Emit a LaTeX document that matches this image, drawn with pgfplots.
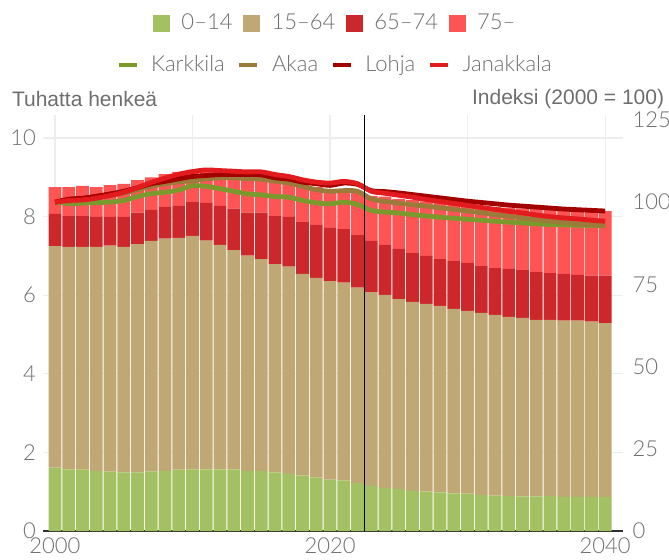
\documentclass[border=0pt]{standalone}
\usepackage{fontspec}
\setmainfont{Lato}
\newfontfamily\lightfont{Lato Light}
\newfontfamily\titlefont{Liberation Sans}
\usepackage{pgfplots}
\usepackage{pgfplotstable}
\pgfplotsset{compat=1.18}

\definecolor{kids}{HTML}{A3C163}
\definecolor{work}{HTML}{C0A874}
\definecolor{young}{HTML}{CC272A}
\definecolor{old}{HTML}{FF5454}
\definecolor{karkkila}{HTML}{7A9A2D}
\definecolor{akaa}{HTML}{9A7B3A}
\definecolor{lohja}{HTML}{A30000}
\definecolor{janakkala}{HTML}{E21B1F}
\definecolor{labelgrey}{HTML}{6E6E6E}
\definecolor{gridgrey}{HTML}{EDEDED}
\definecolor{axisdark}{HTML}{2E2E2E}

% age groups, thousands (segment heights)
\pgfplotstableread{
year c    w    s    o
2000 1.61 5.64 0.82 0.68
2001 1.57 5.66 0.78 0.74
2002 1.56 5.67 0.78 0.77
2003 1.53 5.70 0.76 0.76
2004 1.51 5.75 0.73 0.81
2005 1.49 5.74 0.76 0.84
2006 1.49 5.81 0.80 0.83
2007 1.52 5.86 0.79 0.83
2008 1.53 5.91 0.81 0.83
2009 1.56 5.90 0.81 0.87
2010 1.57 5.94 0.86 0.82
2011 1.57 5.82 0.96 0.84
2012 1.57 5.71 0.99 0.90
2013 1.57 5.58 1.05 0.95
2014 1.53 5.48 1.09 0.95
2015 1.53 5.39 1.18 0.94
2016 1.49 5.30 1.22 0.97
2017 1.45 5.28 1.26 0.94
2018 1.41 5.13 1.32 0.95
2019 1.36 5.08 1.35 0.96
2020 1.31 5.05 1.35 0.99
2021 1.28 5.04 1.36 1.01
2022 1.22 4.97 1.34 1.08
2023 1.15 4.93 1.30 1.15
2024 1.10 4.91 1.27 1.23
2025 1.07 4.83 1.28 1.27
2026 1.02 4.81 1.24 1.35
2027 1.00 4.78 1.22 1.39
2028 0.98 4.75 1.19 1.43
2029 0.96 4.69 1.22 1.45
2030 0.95 4.65 1.22 1.48
2031 0.91 4.64 1.19 1.53
2032 0.90 4.60 1.19 1.55
2033 0.89 4.56 1.22 1.56
2034 0.88 4.54 1.22 1.57
2035 0.88 4.49 1.22 1.60
2036 0.89 4.48 1.19 1.62
2037 0.87 4.48 1.19 1.63
2038 0.87 4.48 1.17 1.63
2039 0.87 4.46 1.17 1.64
2040 0.87 4.42 1.21 1.64
}\agetable

% population index, 2000 = 100
\pgfplotstableread{
year kark  akaa  lohja jana
2000 100.0 100.0 100.0 100.0
2001 99.6  100.2 100.9 100.5
2002 99.7  100.5 101.2 100.7
2003 99.9  101.2 101.8 101.2
2004 100.0 102.0 102.5 102.0
2005 100.5 102.8 103.3 103.0
2006 101.7 103.8 104.4 104.4
2007 102.6 104.8 105.6 106.0
2008 103.0 105.6 106.3 107.3
2009 103.7 106.1 107.1 108.5
2010 105.0 106.6 107.8 109.3
2011 104.8 107.1 108.1 109.8
2012 104.1 107.4 108.4 109.6
2013 103.3 107.4 108.4 109.4
2014 102.5 107.1 108.4 109.2
2015 102.2 107.0 108.3 109.2
2016 101.7 106.4 107.4 108.4
2017 101.5 105.8 107.0 107.8
2018 100.5 104.8 106.1 106.8
2019 99.8  103.8 105.6 106.1
2020 99.5  103.3 105.1 105.8
2021 100.0 103.5 105.8 106.3
2022 99.3  103.3 105.4 105.6
2023 97.5  101.0 103.5 103.3
2024 97.0  100.2 103.2 102.7
2025 96.7  99.7  102.8 102.1
2026 96.2  99.2  102.3 101.5
2027 95.8  98.8  101.8 100.8
2028 95.4  98.3  101.3 100.2
2029 95.1  97.8  100.8 99.6
2030 94.8  97.3  100.3 99.0
2031 94.5  96.8  99.9  98.4
2032 94.2  96.2  99.5  97.8
2033 93.9  95.7  99.1  97.2
2034 93.7  95.2  98.8  96.7
2035 93.4  94.7  98.5  96.1
2036 93.2  94.2  98.2  95.6
2037 93.1  93.8  97.9  95.2
2038 93.0  93.4  97.7  94.9
2039 92.9  93.1  97.5  94.5
2040 92.8  92.9  97.3  94.2
}\indextable

\pgfplotsset{
  common/.style={
    width=290pt, height=208pt, scale only axis,
    at={(0pt,0pt)}, anchor=south west,
    xmin=1999.13, xmax=2041.3,
    clip=false,
    /pgf/number format/assume math mode=true,
    tick label style={font=\lightfont\fontsize{11}{13}\selectfont, text=labelgrey},
    tick style={draw=none},
    legend style={draw=none, fill=none, legend columns=-1,
      font=\lightfont\fontsize{11}{13}\selectfont, text=labelgrey,
      nodes={inner sep=0pt}},
  },
}

\begin{document}
\begin{tikzpicture}
\useasboundingbox (-21.5pt,-14pt) rectangle (313pt,265.5pt);

\begin{axis}[common,
  ymin=0, ymax=10.585,
  ybar stacked, bar width=0.93,
  axis x line*=bottom, axis y line*=left,
  y axis line style={draw=none},
  x axis line style={draw=axisdark, line width=1pt},
  xtick={2000,2010,...,2040},
  xticklabels={2000,,2020,,2040},
  ytick={0,2,...,10},
  xmajorgrids, ymajorgrids,
  grid style={draw=gridgrey, line width=0.6pt},
  legend style={at={(axis description cs:0.502,1.2204)}, anchor=center,
    /tikz/every odd column/.append style={column sep=5.6pt},
    /tikz/every even column/.append style={column sep=5.2pt}},
  legend image code/.code={\fill[#1] (0pt,-4.35pt) rectangle (8.7pt,4.35pt);},
]
\addplot[fill=kids, draw=none] table[x=year, y=c] {\agetable};
\addplot[fill=work, draw=none] table[x=year, y=w] {\agetable};
\addplot[fill=young, draw=none] table[x=year, y=s] {\agetable};
\addplot[fill=old, draw=none] table[x=year, y=o] {\agetable};
\legend{0–14, 15–64, 65–74, 75–}
\node[anchor=west, inner sep=0pt, font=\titlefont\fontsize{10.5}{12}\selectfont, text=labelgrey]
  at (axis description cs:-0.0541,1.0385) {Tuhatta henkeä};
\end{axis}

\begin{axis}[common,
  ymin=0, ymax=126.5,
  axis x line=none, axis y line*=right,
  y axis line style={draw=none},
  ytick={0,25,...,125},
  yticklabel style={xshift=1.3pt},
  legend style={at={(axis description cs:0.502,1.120)}, anchor=center,
    /tikz/every odd column/.append style={column sep=6.3pt},
    /tikz/every even column/.append style={column sep=6.3pt}},
  legend image code/.code={\draw[#1, line width=2pt] (0pt,0pt) -- (9pt,0pt);},
]
\addplot[karkkila, line width=2.4pt, smooth, no marks] table[x=year, y=kark] {\indextable};
\addplot[akaa, line width=2.4pt, smooth, no marks] table[x=year, y=akaa] {\indextable};
\addplot[lohja, line width=2.4pt, smooth, no marks] table[x=year, y=lohja] {\indextable};
\addplot[janakkala, line width=2.4pt, smooth, no marks] table[x=year, y=jana] {\indextable};
\legend{Karkkila, Akaa, Lohja, Janakkala}
\draw[black, line width=0.75pt] (axis cs:2022.5,0) -- (axis cs:2022.5,126.5);
\node[anchor=east, inner sep=0pt, font=\titlefont\fontsize{10.5}{12}\selectfont, text=labelgrey]
  at (axis description cs:1.0716,1.0385) {Indeksi (2000 = 100)};
\end{axis}
\end{tikzpicture}
\end{document}
